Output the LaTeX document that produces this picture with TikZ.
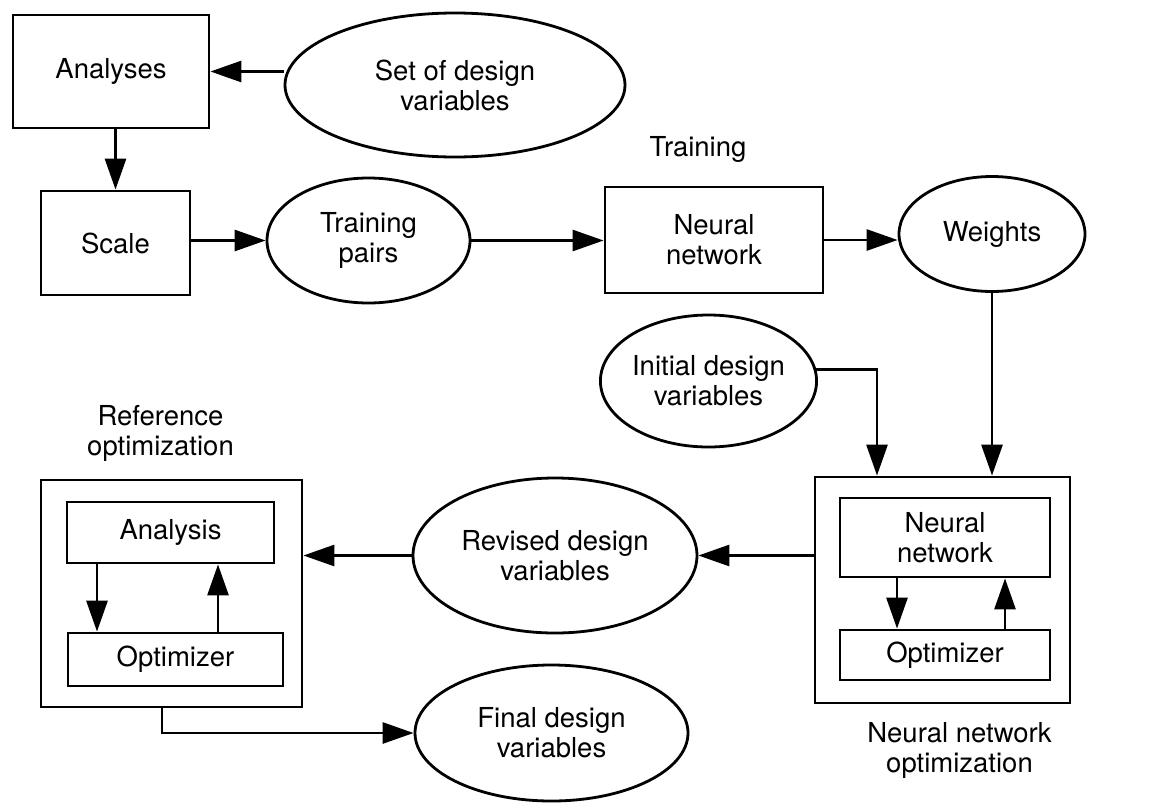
\documentclass[tikz,border=0pt]{standalone}
\usepackage{fontspec}
\setmainfont{TeX Gyre Heros}
\usetikzlibrary{arrows.meta,positioning,shapes.geometric}

\begin{document}
\begin{tikzpicture}[x=1pt, y=-1pt, line width=2.8pt,
  every node/.style={font=\fontsize{27.5}{30}\selectfont, align=center, inner sep=0pt},
  rbox/.style={draw, rectangle},
  oval/.style={draw, ellipse},
  arr/.style={-{Triangle[length=31pt,width=21pt]}}]
\useasboundingbox (0,0) rectangle (1157,804);
% top row
\node[rbox, minimum width=196pt, minimum height=113pt] (analyses) at (111,71.5) {Analyses};
\node[oval, minimum width=340pt, minimum height=144pt] (setdv) at (455,85) {Set of design\\variables};
\node[rbox, minimum width=149pt, minimum height=104pt] (scale) at (115.5,243) {Scale};
\node[oval, minimum width=203pt, minimum height=125pt] (tpairs) at (368.5,240.5) {Training\\pairs};
\node[rbox, minimum width=218pt, minimum height=106pt] (nntrain) at (714,240) {Neural\\network};
\node[above=22pt of nntrain, xshift=-16pt] (trainlbl) {Training};
\node[oval, minimum width=186pt, minimum height=115pt] (weights) at (992,234) {Weights};
\draw[arr] (setdv.west |- analyses.east) -- (analyses.east);
\draw[arr] (analyses.south -| scale.north) -- (scale.north);
\draw[arr] (scale.east |- tpairs.west) -- (tpairs.west);
\draw[arr] (tpairs.east) -- (tpairs.east -| nntrain.west);
\draw[arr] (nntrain.east) -- (nntrain.east -| weights.west);
% neural network optimization
\node[oval, minimum width=207pt, minimum height=132pt] (initdv) at (708.5,381) {Initial design\\variables};
\node[rbox, minimum width=255pt, minimum height=226pt] (nnopt) at (942.5,590) {};
\node[rbox, minimum width=210pt, minimum height=79pt] (nninner) at (945,537.5) {Neural\\network};
\node[rbox, minimum width=210pt, minimum height=50pt] (nnoptim) at (945,655) {Optimizer};
\node[below=17pt of nnopt, xshift=17pt] (nnoptlbl) {Neural network\\optimization};
\coordinate (initin) at (877,0);
\coordinate (nndn) at (897,0);
\coordinate (nnup) at (1005,0);
\draw[arr] (initdv.6) -| (initin |- nnopt.north);
\draw[arr] (weights.south) -- (weights.south |- nnopt.north);
\draw[arr] (nndn |- nninner.south) -- (nndn |- nnoptim.north);
\draw[arr] (nnup |- nnoptim.north) -- (nnup |- nninner.south);
% reference optimization
\node[oval, minimum width=284pt, minimum height=155pt] (revdv) at (555,555.5) {Revised design\\variables};
\node[rbox, minimum width=261pt, minimum height=227pt] (refopt) at (171.5,593.5) {};
\node[rbox, minimum width=207pt, minimum height=61pt] (analysis) at (170.5,532.5) {Analysis};
\node[rbox, minimum width=215pt, minimum height=53pt] (refoptim) at (175.5,659.5) {Optimizer};
\node[above=16pt of refopt, xshift=-11pt] (refoptlbl) {Reference\\optimization};
\node[oval, minimum width=273pt, minimum height=136pt] (finaldv) at (551.5,733) {Final design\\variables};
\coordinate (refdn) at (97,0);
\coordinate (refup) at (218,0);
\coordinate (fout) at (162,0);
\draw[arr] (nnopt.west |- revdv.east) -- (revdv.east);
\draw[arr] (revdv.west) -- (revdv.west -| refopt.east);
\draw[arr] (refdn |- analysis.south) -- (refdn |- refoptim.north);
\draw[arr] (refup |- refoptim.north) -- (refup |- analysis.south);
\draw[arr] (fout |- refopt.south) |- (finaldv.west);
\end{tikzpicture}
\end{document}
